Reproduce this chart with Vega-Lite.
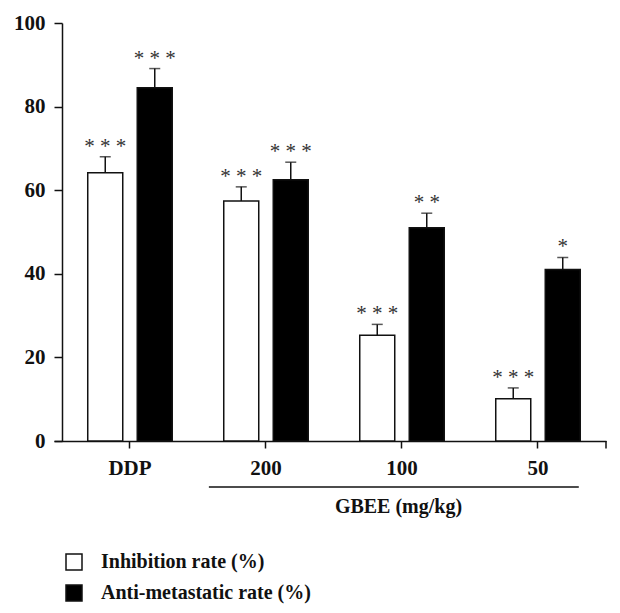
{
  "$schema": "https://vega.github.io/schema/vega-lite/v6.json",
  "width": 552,
  "height": 418,
  "autosize": {"type": "none"},
  "padding": {"left": 54, "top": 23, "right": 14, "bottom": 172},
  "background": "white",
  "config": {
    "view": {"stroke": null},
    "font": "Liberation Serif",
    "axis": {"grid": false, "domainColor": "#111", "tickColor": "#111", "labelColor": "#111", "titleColor": "#111"}
  },
  "datasets": {
    "bars": [
      {"group": "DDP", "series": "Inhibition rate (%)", "value": 64.2, "err": 68.0, "stars": "* * *"},
      {"group": "DDP", "series": "Anti-metastatic rate (%)", "value": 84.5, "err": 89.1, "stars": "* * *"},
      {"group": "200", "series": "Inhibition rate (%)", "value": 57.4, "err": 60.8, "stars": "* * *"},
      {"group": "200", "series": "Anti-metastatic rate (%)", "value": 62.5, "err": 66.7, "stars": "* * *"},
      {"group": "100", "series": "Inhibition rate (%)", "value": 25.3, "err": 27.9, "stars": "* * *"},
      {"group": "100", "series": "Anti-metastatic rate (%)", "value": 51.0, "err": 54.5, "stars": "* *"},
      {"group": "50", "series": "Inhibition rate (%)", "value": 10.1, "err": 12.7, "stars": "* * *"},
      {"group": "50", "series": "Anti-metastatic rate (%)", "value": 41.0, "err": 43.9, "stars": "*"}
    ]
  },
  "encoding": {
    "x": {
      "field": "group", "type": "nominal",
      "scale": {"domain": ["DDP", "200", "100", "50"], "paddingInner": 0, "paddingOuter": 0.0294, "align": 1},
      "axis": {
        "title": "GBEE (mg/kg)", "titleFont": "Liberation Serif", "titleFontSize": 20, "titleFontWeight": "bold",
        "titleX": 344, "titleY": 71, "titleBaseline": "alphabetic", "titleAnchor": "middle",
        "labelAngle": 0, "labelFont": "Liberation Serif", "labelFontSize": 21, "labelFontWeight": "bold",
        "labelPadding": 9, "tickSize": 7, "tickWidth": 1.5, "domainWidth": 1.5
      }
    }
  },
  "layer": [
    {
      "data": {"name": "bars"},
      "mark": {"type": "bar", "stroke": "#111", "strokeWidth": 1.5, "fillOpacity": 1},
      "encoding": {
        "xOffset": {"field": "series", "type": "nominal", "scale": {"domain": ["Inhibition rate (%)", "Anti-metastatic rate (%)"], "paddingInner": 0.293, "paddingOuter": 0.52}},
        "y": {
          "field": "value", "type": "quantitative",
          "scale": {"domain": [0, 100], "nice": false},
          "axis": {"title": null, "values": [0, 20, 40, 60, 80, 100], "offset": -8, "labelFont": "Liberation Serif", "labelFontSize": 21, "labelFontWeight": "bold", "labelPadding": 9, "tickSize": 8, "tickWidth": 1.5, "domainWidth": 1.5}
        },
        "fill": {
          "field": "series", "type": "nominal",
          "scale": {"domain": ["Inhibition rate (%)", "Anti-metastatic rate (%)"], "range": ["white", "black"]},
          "legend": {
            "title": null, "orient": "none", "legendX": 10, "legendY": 529, "padding": 0,
            "symbolType": "square", "symbolSize": 256, "symbolStrokeColor": "#111", "symbolStrokeWidth": 1.5, "symbolOpacity": 1,
            "labelFont": "Liberation Serif", "labelFontSize": 20, "labelFontWeight": "bold", "labelColor": "#111",
            "labelOffset": 17, "rowPadding": 9, "labelLimit": 400
          }
        }
      }
    },
    {
      "data": {"name": "bars"},
      "mark": {"type": "rule", "color": "#111", "strokeWidth": 1.5},
      "encoding": {
        "xOffset": {"field": "series", "type": "nominal"},
        "y": {"field": "value", "type": "quantitative"},
        "y2": {"field": "err"}
      }
    },
    {
      "data": {"name": "bars"},
      "mark": {"type": "tick", "color": "#111", "size": 11, "thickness": 1.5},
      "encoding": {
        "xOffset": {"field": "series", "type": "nominal"},
        "y": {"field": "err", "type": "quantitative"}
      }
    },
    {
      "data": {"name": "bars"},
      "mark": {"type": "text", "font": "Liberation Serif", "fontSize": 21, "color": "#333", "baseline": "alphabetic", "dy": -4},
      "encoding": {
        "xOffset": {"field": "series", "type": "nominal"},
        "y": {"field": "err", "type": "quantitative"},
        "text": {"field": "stars"}
      }
    },
    {
      "data": {"values": [{"from": "200", "to": "50", "level": -11}]},
      "mark": {"type": "rule", "color": "#111", "strokeWidth": 1.5},
      "encoding": {
        "x": {"field": "from", "type": "nominal", "bandPosition": 0.08},
        "x2": {"field": "to", "bandPosition": 0.8},
        "y": {"field": "level", "type": "quantitative"}
      }
    },
    {
      "data": {"values": [{"end": "50", "top": 0, "bottom": -1.8}]},
      "mark": {"type": "rule", "color": "#111", "strokeWidth": 1.5},
      "encoding": {
        "x": {"field": "end", "type": "nominal", "bandPosition": 1},
        "y": {"field": "top", "type": "quantitative"},
        "y2": {"field": "bottom"}
      }
    }
  ]
}
